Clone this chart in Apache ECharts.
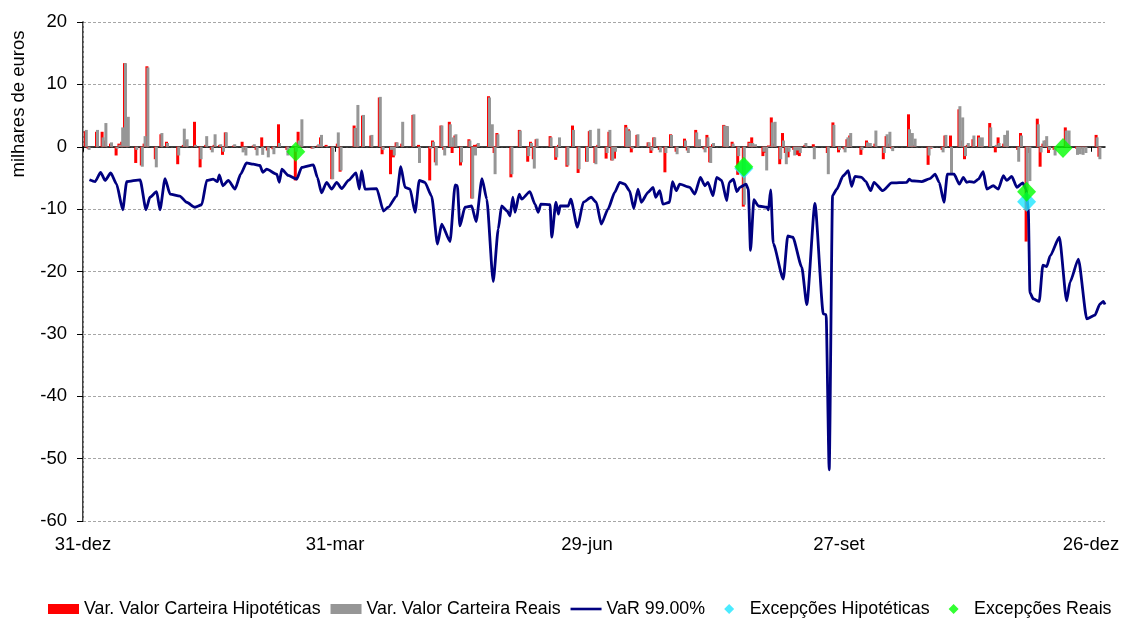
<!DOCTYPE html>
<html>
<head>
<meta charset="utf-8">
<script src="https://cdn.jsdelivr.net/npm/echarts@6/dist/echarts.min.js"></script>
<style>
html,body{margin:0;padding:0;background:#fff;}
#chart{width:1125px;height:618px;}
</style>
</head>
<body>
<div id="chart"></div>
<script>
// Day offsets from 31-dez (x axis spans 0..365 days)
const tickDays = [0, 90, 180, 270, 360];
const tickLabels = ['31-dez', '31-mar', '29-jun', '27-set', '26-dez'];

// Daily P&L bars (milhares de euros)
const barDays = [1,2,5,7,8,10,12,13,14,15,16,19,21,22,23,26,28,30,34,36,37,40,42,44,46,47,49,50,51,54,57,58,61,62,64,66,68,70,73,76,77,78,82,84,85,87,89,91,92,
  97,98,100,103,106,107,110,111,112,114,118,120,124,125,126,128,129,131,132,133,135,138,139,140,141,145,146,147,148,153,156,159,160,161,162,167,169,170,173,175,177,
  180,181,183,184,187,188,189,190,194,195,196,198,202,203,204,206,208,210,212,215,216,219,220,222,223,224,225,229,230,232,234,236,238,239,240,243,244,245,246,247,249,250,251,252,254,255,256,258,261,266,268,
  270,272,273,274,278,280,281,283,286,287,288,289,295,296,297,302,303,307,308,310,313,314,315,316,318,320,321,324,326,327,329,330,334,335,337,338,341,342,343,344,345,347,351,352,355,356,357,358,362,363];
const hypVals = [2.5,-0.3,2.4,2.4,1.0,0.5,-1.4,0.5,0.8,13.4,1.0,-2.6,-3.0,0.5,12.9,-2.0,2.0,0.8,-2.8,0.3,1.0,4.0,-3.3,0.3,-0.5,0.3,0.3,-1.3,2.3,0.2,0.8,-0.5,0.2,-0.5,1.5,-0.6,-0.4,3.6,-0.5,-5.4,2.4,0.3,-0.3,0.2,1.5,0.3,-5.2,0.5,-4.0,
  3.4,3.0,5.0,1.8,7.9,-1.2,-4.4,-1.7,0.7,0.5,5.1,0.3,-5.4,1.0,-2.5,3.4,-0.5,4.0,-1.0,1.8,-3.0,1.2,-8.3,0.3,0.4,8.1,0.5,-1.0,2.2,-4.9,2.7,-2.4,0.8,-2.0,1.2,1.7,-2.1,0.3,-3.2,3.4,-4.2,
  -2.4,2.5,-2.6,0.3,-1.9,2.4,-2.2,-1.9,3.5,2.8,-0.9,1.9,0.7,-1.0,1.5,-0.5,-4.1,2.0,-0.8,1.3,-0.6,2.7,0.3,-0.4,1.9,-2.5,0.4,3.5,3.3,0.8,-4.5,-9.6,0.8,1.5,0.2,-1.5,-1.0,0.2,4.7,0.5,-2.8,2.2,-1.0,-1.7,-0.5,-1.3,-1.5,0.3,0.4,-1.0,3.9,
  -0.9,-0.4,1.2,1.8,-1.3,1.0,0.3,0.5,-2.0,1.7,0.5,-0.3,5.2,0.5,0.3,-2.9,-0.3,-0.5,1.8,1.8,6.0,1.0,-2.0,0.3,1.2,1.8,0.3,3.8,-0.9,1.5,0.5,0.3,-0.5,2.2,-15.2,-1.0,4.5,-3.2,0.5,1.0,-1.0,-0.5,3.1,0.3,-0.3,-0.2,-0.3,-0.2,1.9,-1.6];
const realVals = [2.7,-0.5,2.7,1.5,3.8,0.7,-0.3,0.3,3.1,13.4,4.8,-0.5,-3.2,1.7,12.7,-3.3,2.2,0.6,-1.4,2.9,1.2,0.3,-2.0,1.7,-0.9,2.0,0.4,-0.8,2.3,0.4,-0.9,-1.4,0.4,-1.4,-1.3,-1.7,-1.2,0.6,-1.4,-0.8,1.0,4.4,-0.3,0.4,1.9,0.1,-5.2,2.3,-3.8,
  3.0,6.7,5.1,1.9,8.0,-0.5,-0.5,-1.4,0.7,4.0,5.2,-2.6,-0.3,0.8,-3.0,3.4,-1.4,3.6,1.5,2.0,-2.5,1.0,-8.3,-1.4,0.6,7.9,3.6,-4.4,2.0,-4.4,2.6,-1.5,0.6,-3.5,1.3,1.5,-1.7,1.5,-3.0,2.7,-3.6,
  -2.4,2.7,-2.8,2.9,-1.0,2.7,-2.2,-0.8,3.1,2.6,-0.3,2.0,0.7,-0.6,1.5,-0.9,-1.0,1.9,-1.2,1.0,-1.0,2.3,1.2,-0.9,1.5,-2.6,0.6,3.4,3.3,0.5,-1.5,-9.3,0.6,0.6,0.4,-0.8,-3.8,0.1,3.9,4.0,-2.0,1.0,-2.8,-0.8,-1.4,-0.6,-1.0,0.6,-2.0,-4.4,3.5,
  -0.5,-0.9,1.5,2.2,-0.5,0.7,0.6,2.6,-1.0,2.0,2.4,-0.7,2.8,2.2,1.3,-1.4,-0.2,-0.9,1.9,-4.4,6.5,4.7,-1.5,0.6,1.8,1.5,1.5,3.1,0.3,0.6,1.9,2.6,-2.4,1.8,-7.0,-5.5,3.6,-0.9,1.0,1.7,-0.5,-1.4,2.6,2.6,-1.3,-1.2,-1.3,-1.0,1.5,-2.0];

// VaR 99% line vertices
const varDays = [2.3,4.3,6.3,7.9,9.9,12,14.2,15.6,20.4,22.5,23.9,26.3,27.5,29.3,31.1,34.6,37,40,42.4,44.2,46.5,48,48.7,49.9,51.9,54.3,56.3,58.4,60.8,63.2,64.2,65.6,69.2,70.1,71,73.3,76.3,78.1,82.3,83.7,85.2,87,88.8,
  90.6,92.4,94.8,97.5,98.7,99.5,100.7,104.9,107.3,109,112,113.5,115,116.8,118.6,120.1,122.1,124.5,126.6,128.1,131.1,132.9,133.7,134.6,136.4,138.8,140.4,142.5,144.2,146.5,148.3,149.5,151.5,152.5,153.5,154.3,155.8,156.7,159.6,161.4,162.6,163.5,166.8,167.4,168.9,169.8,170.4,173.3,174.2,176.6,178.7,181.5,
  183.3,185.1,187.5,189.9,191.7,193.5,195.2,196.7,198.2,199.4,201.8,203.6,204.5,206,207.1,209.5,210.5,211.9,213.1,216.7,218.5,220.5,222.1,223.2,225,226.3,228.1,229.9,230.8,232.3,233.5,234.6,236.8,237.6,238.4,239.6,241.2,244.2,244.8,245.6,246.5,250.1,251.7,253.5,256.7,258.5,261.4,264.4,265.4,266.5,267.7,269.2,271.5,273.3,274.5,275.7,278.1,279.6,281.3,282.5,285.6,288.8,294.2,295.1,295.9,299.5,302.5,304.3,305.8,307.5,308.7,311.1,313,314.4,315.6,316.5,318.2,319.8,321.5,322.8,325.1,326.9,328.7,329.9,331.7,333.5,335.6,336.8,337.6,338.2,339.4,341.5,342.8,344.2,345.4,348.7,351.3,352.5,355.5,358.5,361.4,363.2,364.4,365];
const varVals = [-5.3,-5.6,-4.1,-5.4,-4.2,-6.0,-10.1,-5.6,-5.3,-10.1,-8.1,-7.2,-10.1,-5.1,-7.6,-7.9,-8.9,-9.7,-9.3,-5.4,-5.2,-5.6,-4.5,-6.25,-5.4,-6.8,-4.4,-2.6,-2.8,-3.0,-4.1,-3.6,-4.4,-5.7,-3.6,-4.6,-5.2,-3.3,-2.9,-4.9,-7.4,-5.7,-6.8,
  -5.7,-6.7,-5.4,-4.2,-6.8,-3.85,-6.8,-6.7,-10.3,-9.7,-7.9,-3.2,-6.5,-6.8,-10.5,-5.4,-5.7,-7.9,-15.6,-12.4,-15.2,-6.1,-6.25,-12.7,-9.7,-9.5,-12,-5.1,-8.4,-21.6,-13.2,-9.5,-10.3,-11.1,-8.1,-10.5,-7.6,-8.4,-7.2,-9.2,-10.5,-9.2,-9.3,-14.5,-8.9,-10.8,-9.5,-9.5,-8.4,-12.9,-8.9,-8.1,
  -8.9,-12.4,-10,-7.3,-5.7,-6.0,-7.05,-9.9,-6.8,-8.9,-7.3,-6.5,-8.1,-7.05,-9.2,-8.9,-5.6,-7.05,-6.0,-6.5,-7.6,-4.9,-6.25,-5.7,-7.85,-4.9,-5.4,-8.65,-5.7,-5.2,-7.2,-6.5,-6.0,-6.8,-16.6,-8.5,-9.5,-9.7,-10.1,-6.9,-15.5,-21.2,-14.3,-14.5,-19.3,-25.3,-9.1,-26.8,-26.9,-51.8,-7.85,-6.8,-4.65,-3.85,-6.35,-4.75,-4.9,-5.6,-7.05,-5.7,-7.05,-5.8,-5.7,-5.2,-5.45,-5.6,-5.1,-4.4,-5.7,-8.9,-4.4,-4.4,-6.0,-4.9,-5.7,-5.6,-5.7,-5.2,-4.0,-6.8,-6.25,-6.8,-4.65,-5.4,-4.75,-6.5,-5.8,-6.8,-10.0,-23.4,-24.4,-24.8,-19.0,-19.2,-17.5,-14.5,-24.7,-21.7,-18.0,-27.6,-27.0,-25.2,-24.8,-25.3];

// Exceptions
const excHypDays = [236, 337];
const excHypVals = [-3.5, -8.8];
const excRealDays = [76, 236, 337, 350];
const excRealVals = [-0.8, -3.2, -7.2, -0.2];

const FONT = "'Liberation Sans', Arial, sans-serif";
const pairs = (xs, ys) => xs.map((x, i) => [x, ys[i]]);
const DIAMOND_ICON = 'path://M0,0ZM31,10ZM10,5L15.5,-0.5L21,5L15.5,10.5Z';

const chart = echarts.init(document.getElementById('chart'), null, {renderer: 'canvas'});
chart.setOption({
  animation: false,
  backgroundColor: '#ffffff',
  grid: {left: 83, right: 20, top: 22, bottom: 97, containLabel: false},
  graphic: [{
    type: 'text', x: 19, y: 104, rotation: Math.PI / 2,
    style: {text: 'milhares de euros', fontSize: 18.5, fontFamily: FONT, fill: '#000', align: 'center', verticalAlign: 'middle'}
  }],
  legend: {
    left: 48, top: 600, padding: 0, itemWidth: 31, itemHeight: 10, itemGap: 10, symbolKeepAspect: true,
    textStyle: {fontSize: 17.8, fontFamily: FONT, color: '#000'},
    data: [
      {name: 'Var. Valor Carteira Hipotéticas', icon: 'rect'},
      {name: 'Var. Valor Carteira Reais', icon: 'rect'},
      {name: 'VaR 99.00%', icon: 'path://M0,0H31V2.6H0Z'},
      {name: 'Excepções Hipotéticas', icon: DIAMOND_ICON},
      {name: 'Excepções Reais', icon: DIAMOND_ICON}
    ]
  },
  xAxis: [{
    type: 'value', min: 0, max: 365, position: 'bottom',
    axisLine: {show: false, onZero: false},
    axisTick: {show: false},
    splitLine: {show: false},
    axisLabel: {
      customValues: tickDays, margin: 14, fontSize: 18.5, fontFamily: FONT, color: '#000',
      formatter: v => tickLabels[tickDays.indexOf(v)] || ''
    }
  }, {
    type: 'value', min: 0, max: 365, position: 'bottom',
    axisLine: {show: true, onZero: true, onZeroAxisIndex: 0, lineStyle: {color: '#000', width: 1.5}},
    axisTick: {show: true, customValues: tickDays, length: 5, lineStyle: {color: '#000', width: 1}},
    axisLabel: {show: false},
    splitLine: {show: false}
  }],
  yAxis: [{
    type: 'value', min: -60, max: 20, interval: 10,
    axisLine: {show: true, onZero: false, lineStyle: {color: '#000', width: 1.5}},
    axisTick: {show: true, length: 6, lineStyle: {color: '#000'}},
    axisLabel: {margin: 16, fontSize: 18.5, fontFamily: FONT, color: '#000'},
    splitLine: {show: true, lineStyle: {color: '#a6a6a6', type: [3, 2], width: 1}}
  }, {
    type: 'value', min: -60, max: 20, interval: 10, position: 'right',
    axisLine: {show: true, lineStyle: {color: '#a6a6a6', type: [3, 2], width: 1}},
    axisTick: {show: false}, axisLabel: {show: false}, splitLine: {show: false}
  }],
  series: [{
    name: 'Var. Valor Carteira Hipotéticas', type: 'bar',
    xAxisIndex: 0, yAxisIndex: 0, barWidth: 3, barGap: '-67%',
    itemStyle: {color: '#ff0000'}, z: 2,
    data: pairs(barDays, hypVals)
  }, {
    name: 'Var. Valor Carteira Reais', type: 'bar',
    xAxisIndex: 0, yAxisIndex: 0, barWidth: 3, barGap: '-67%',
    itemStyle: {color: '#969696'}, z: 2,
    data: pairs(barDays, realVals)
  }, {
    name: 'VaR 99.00%', type: 'line',
    xAxisIndex: 0, yAxisIndex: 0, symbol: 'none', smooth: 0.2, smoothMonotone: 'x',
    lineStyle: {color: '#000080', width: 2.8}, itemStyle: {color: '#000080'}, z: 3,
    data: pairs(varDays, varVals)
  }, {
    name: 'Excepções Hipotéticas', type: 'scatter',
    xAxisIndex: 0, yAxisIndex: 0, symbol: 'diamond', symbolSize: [19, 20],
    itemStyle: {color: '#1ee6ff'}, z: 4,
    data: pairs(excHypDays, excHypVals)
  }, {
    name: 'Excepções Reais', type: 'scatter',
    xAxisIndex: 0, yAxisIndex: 0, symbol: 'diamond', symbolSize: [19, 20],
    itemStyle: {color: '#00ff00'}, z: 5,
    data: pairs(excRealDays, excRealVals)
  }]
});
</script>
</body>
</html>
